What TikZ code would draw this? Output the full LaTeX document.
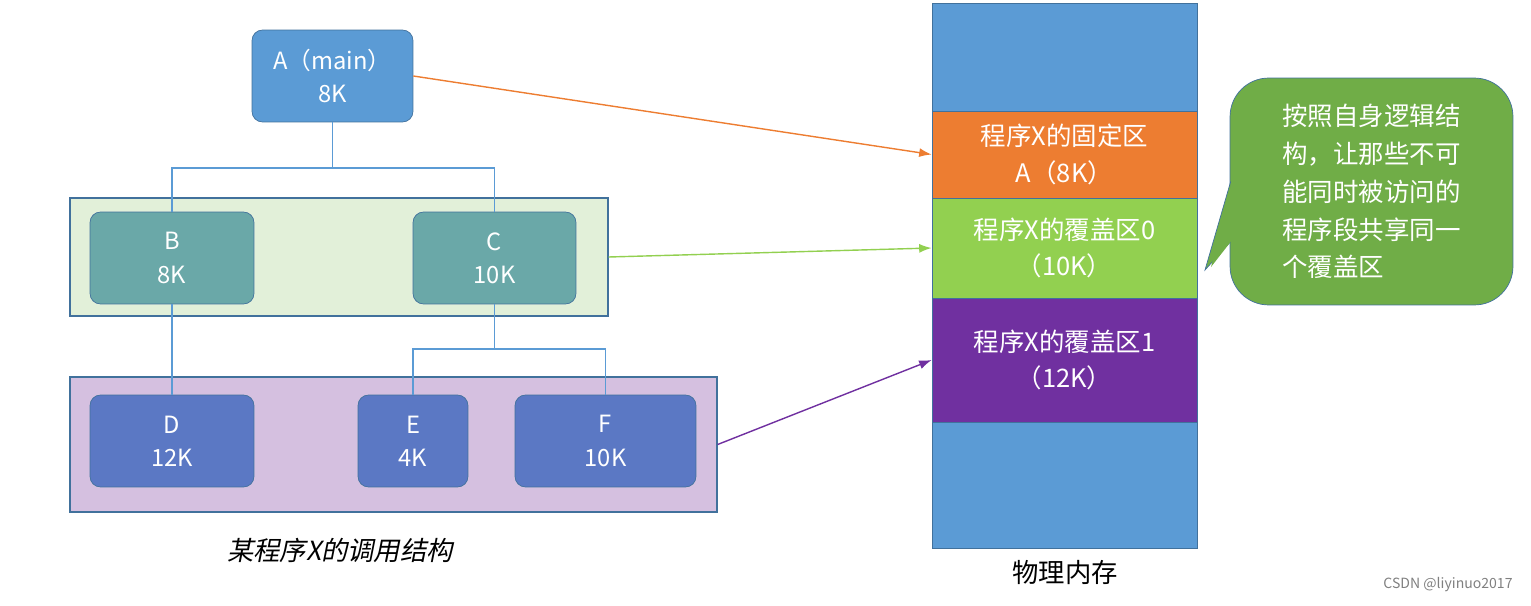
\documentclass[tikz,border=0pt]{standalone}
\usepackage{fontspec}
\setmainfont{Noto Sans CJK SC}
\newfontfamily\slantcjk{Noto Sans CJK SC}[FakeSlant=0.2]
\usepackage{xcolor}
\definecolor{nodeBlue}{HTML}{5B9BD5}
\definecolor{lineBlue}{HTML}{41719C}
\definecolor{bandGreen}{HTML}{E2F0D9}
\definecolor{bandPurple}{HTML}{D5C0E0}
\definecolor{tealBox}{HTML}{6AA8A8}
\definecolor{indigoBox}{HTML}{5B78C4}
\definecolor{fixOrange}{HTML}{ED7D31}
\definecolor{ovlGreen}{HTML}{92D050}
\definecolor{ovlPurple}{HTML}{7030A0}
\definecolor{noteGreen}{HTML}{70AD47}
\usepackage{tikz}
\usetikzlibrary{positioning,calc,arrows.meta}
\tikzset{%
  modBox/.style={%
    rectangle,
    rounded corners=6pt,
    draw=lineBlue,
    text=white,
    minimum height=1.84cm,
    align=center,
    font=\fontsize{13.5}{19}\selectfont
  },
  bandBox/.style={%
    rectangle,
    draw=lineBlue,
    thick
  },
  memSeg/.style={%
    rectangle,
    draw=lineBlue,
    minimum width=5.3cm,
    align=center,
    text=white,
    font=\fontsize{14.5}{21}\selectfont
  },
  treeLine/.style={%
    draw=nodeBlue,
    thick
  },
  arrowLine/.style={%
    -{Latex[length=2.5mm,width=1.8mm]},
    thick
  }
}

\begin{document}
\begin{tikzpicture}[x=0.02cm,y=-0.02cm]
  \useasboundingbox (0,0) rectangle (1531,605);

  % Bands behind the modules
  \node[bandBox, fill=bandGreen, minimum width=10.76cm, minimum height=2.36cm] (band0) at (339,257) {};
  \node[bandBox, fill=bandPurple, minimum width=12.94cm, minimum height=2.7cm] (band1) at (393.5,444.5) {};

  % Modules of program X
  \node[modBox, fill=nodeBlue, minimum width=3.22cm] (modA) at (332.5,76) {A（main）\\8K};
  \node[modBox, fill=tealBox, minimum width=3.28cm] (modB) at (172,258) {B\\8K};
  \node[modBox, fill=tealBox, minimum width=3.26cm] (modC) at (494.5,258) {C\\10K};
  \node[modBox, fill=indigoBox, minimum width=3.28cm] (modD) at (172,441) {D\\12K};
  \node[modBox, fill=indigoBox, minimum width=2.2cm] (modE) at (413,441) {E\\4K};
  \node[modBox, fill=indigoBox, minimum width=3.62cm] (modF) at (605.5,441) {F\\10K};

  % Call tree
  \coordinate (splitA) at (332.5,168);
  \coordinate (splitC) at (494.5,349);
  \draw[treeLine] (modA.south) -- (splitA);
  \draw[treeLine] (splitA) -| (modB.north);
  \draw[treeLine] (splitA) -| (modC.north);
  \draw[treeLine] (modB.south) -- (modD.north);
  \draw[treeLine] (modC.south) -- (splitC);
  \draw[treeLine] (splitC) -| (modE.north);
  \draw[treeLine] (splitC) -| (modF.north);

  \node[font=\slantcjk\fontsize{15}{18}\selectfont] (callLabel) at (340,550) {某程序X的调用结构};

  % Physical memory
  \node[memSeg, fill=nodeBlue, minimum height=10.9cm] (memory) at (1064.5,275.5) {};
  \node[memSeg, fill=fixOrange, minimum height=1.74cm] (fixArea) at (1064.5,154.5) {程序X的固定区\\A（8K）};
  \node[memSeg, fill=ovlGreen, minimum height=2cm] (ovl0) at (1064.5,248) {程序X的覆盖区0\\（10K）};
  \node[memSeg, fill=ovlPurple, minimum height=2.48cm] (ovl1) at (1064.5,360) {程序X的覆盖区1\\（12K）};
  \node[font=\fontsize{15}{18}\selectfont] (memLabel) at (1065,573) {物理内存};

  % Mapping arrows
  \draw[arrowLine, fixOrange] (modA.east) -- (fixArea.west);
  \draw[arrowLine, ovlGreen] (band0.east) -- (ovl0.west);
  \draw[arrowLine, ovlPurple] (band1.east) -- (ovl1.west);

  % Note
  \node[rectangle, rounded corners=22pt, draw=lineBlue, fill=noteGreen, text=white,
        minimum width=5.66cm, minimum height=4.54cm, align=left,
        font=\fontsize{14.5}{21.5}\selectfont] (note) at (1371.5,191.5)
        {按照自身逻辑结\\构，让那些不可\\能同时被访问的\\程序段共享同一\\个覆盖区};
  \coordinate (notePtr) at (1205,270);
  \filldraw[draw=lineBlue, fill=noteGreen] ($(note.west)+(1,-10)$) -- (notePtr) -- ($(note.west)+(1,50)$);
  \fill[noteGreen] ($(note.west)+(2,-9)$) -- ($(notePtr)+(6,-3)$) -- ($(note.west)+(2,49)$) -- cycle;

  \node[text=gray, font=\fontsize{8}{10}\selectfont] (credit) at (1448,585) {CSDN @liyinuo2017};
\end{tikzpicture}
\end{document}
